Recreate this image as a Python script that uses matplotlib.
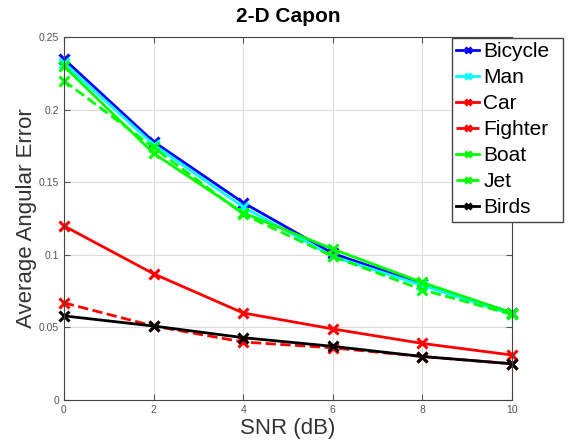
import matplotlib
matplotlib.use("Agg")
from matplotlib import pyplot as plt
from matplotlib.patches import Rectangle

plt.rcParams["font.family"] = ["Liberation Sans", "DejaVu Sans"]

snr = [0, 2, 4, 6, 8, 10]

bicycle = [0.235, 0.178, 0.136, 0.101, 0.080, 0.060]
man = [0.232, 0.176, 0.133, 0.099, 0.079, 0.059]
car = [0.120, 0.087, 0.060, 0.049, 0.039, 0.031]
fighter = [0.067, 0.051, 0.040, 0.036, 0.030, 0.025]
boat = [0.230, 0.170, 0.129, 0.104, 0.081, 0.060]
jet = [0.220, 0.174, 0.128, 0.099, 0.076, 0.059]
birds = [0.058, 0.051, 0.043, 0.037, 0.030, 0.025]

series = [
    ("Bicycle", bicycle, "#0000ff", "-"),
    ("Man", man, "#00ffff", "-"),
    ("Car", car, "#ff0000", "-"),
    ("Fighter", fighter, "#ff0000", "--"),
    ("Boat", boat, "#00ff00", "-"),
    ("Jet", jet, "#00ff00", "--"),
    ("Birds", birds, "#000000", "-"),
]

fig = plt.figure(figsize=(5.76, 4.48), dpi=100)
ax = fig.add_axes([0.111, 0.107, 0.778, 0.810])

for name, vals, col, ls in series:
    ax.plot(snr, vals, color=col, linestyle=ls, linewidth=2, marker="x",
            markersize=7, markeredgewidth=2.2, label=name, clip_on=False)

ax.set_xlim(0, 10)
ax.set_ylim(0, 0.25)
ax.set_xticks(snr)
ax.set_yticks([0, 0.05, 0.1, 0.15, 0.2, 0.25])
ax.set_yticklabels(["0", "0.05", "0.1", "0.15", "0.2", "0.25"])
ax.grid(True, color="#dddddd", linewidth=0.8)
ax.set_axisbelow(True)
ax.tick_params(direction="in", labelsize=7.5, colors="#555555", length=4,
               top=True, right=True)
for s in ax.spines.values():
    s.set_color("#444444")
    s.set_linewidth(0.8)

ax.set_xlabel("SNR (dB)", fontsize=16, color="#333333", labelpad=2)
ax.set_ylabel("Average Angular Error", fontsize=16, color="#333333", labelpad=1)
ax.set_title("2-D Capon", fontsize=15, fontweight="bold", pad=11)

# legend box is wider than its contents in the original, so draw it by hand
box = Rectangle((0.785, 0.5045), 0.1927, 0.4107, transform=fig.transFigure,
                facecolor="white", edgecolor="#444444", linewidth=1.0, zorder=4)
fig.patches.append(box)

leg = fig.legend(loc="upper left", bbox_to_anchor=(0.785, 0.916), fontsize=15,
                 handlelength=1.1, handletextpad=0.2, labelspacing=0.34,
                 borderpad=0.2, borderaxespad=0, frameon=False, markerscale=0.7)
leg.set_zorder(5)

plt.savefig("out.png", dpi=100)
